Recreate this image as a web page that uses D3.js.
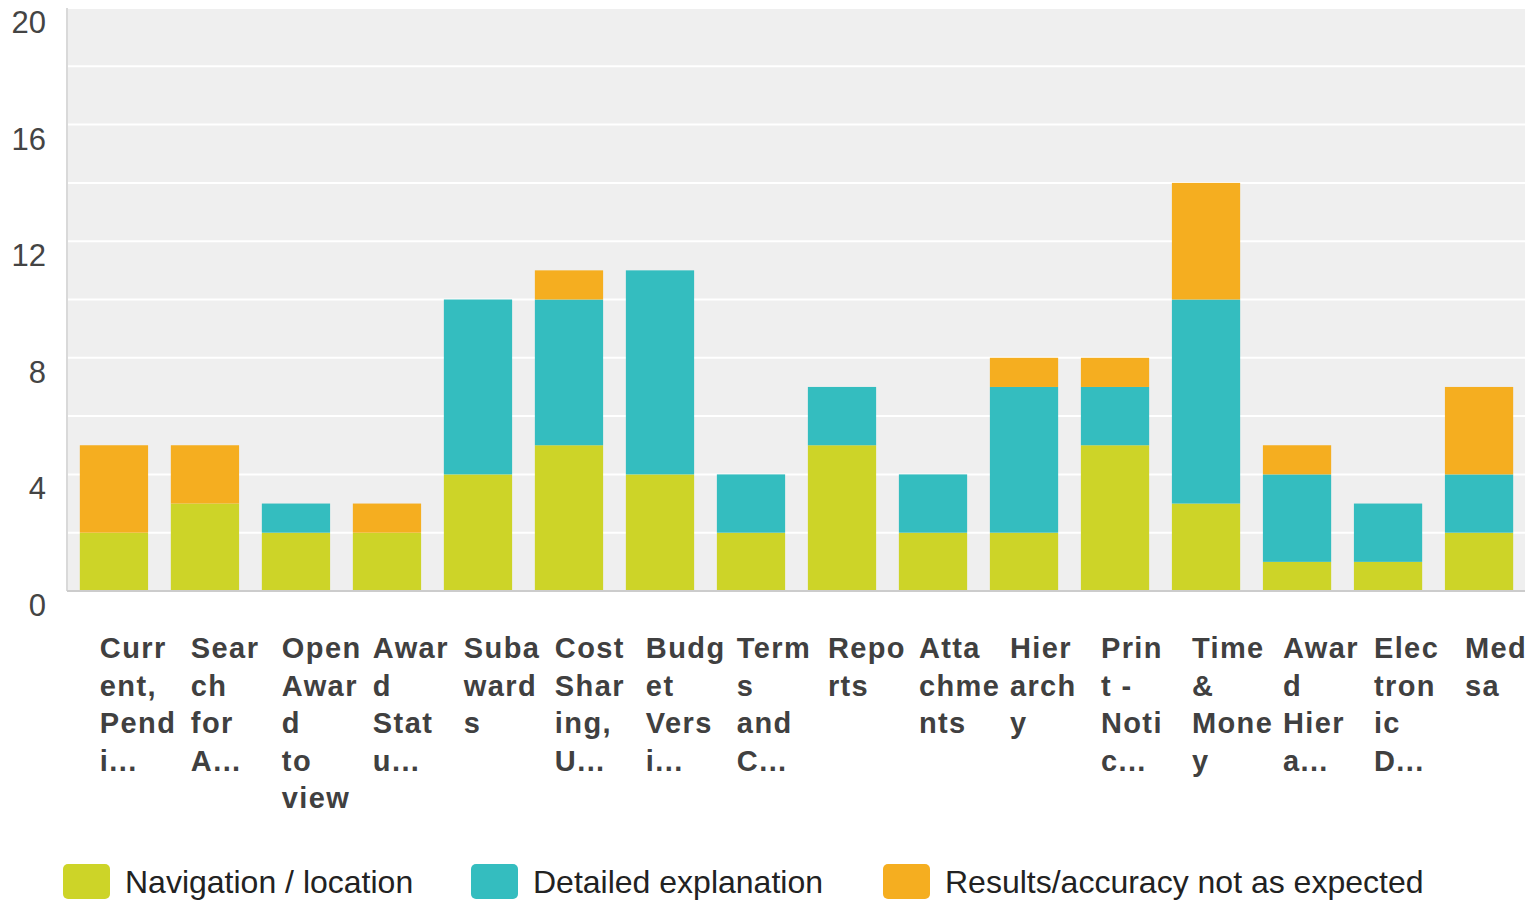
<!DOCTYPE html>
<html>
<head>
<meta charset="utf-8">
<script src="https://cdn.jsdelivr.net/npm/d3@7"></script>
<style>
  body { margin: 0; background: #fff; }
  svg { display: block; font-family: "Liberation Sans", Arial, Helvetica, sans-serif; }
</style>
</head>
<body>
<svg id="chart" width="1535" height="901"></svg>
<script>
// category labels, already wrapped as in the source chart
const categories = [
  ["Curr", "ent,", "Pend", "i..."],
  ["Sear", "ch", "for", "A..."],
  ["Open", "Awar", "d", "to", "view"],
  ["Awar", "d", "Stat", "u..."],
  ["Suba", "ward", "s"],
  ["Cost", "Shar", "ing,", "U..."],
  ["Budg", "et", "Vers", "i..."],
  ["Term", "s", "and", "C..."],
  ["Repo", "rts"],
  ["Atta", "chme", "nts"],
  ["Hier", "arch", "y"],
  ["Prin", "t -", "Noti", "c..."],
  ["Time", "&", "Mone", "y"],
  ["Awar", "d", "Hier", "a..."],
  ["Elec", "tron", "ic", "D..."],
  ["Med", "sa"]
];

const navigation = [2, 3, 2, 2, 4, 5, 4, 2, 5, 2, 2, 5, 3, 1, 1, 2];
const detailed   = [0, 0, 1, 0, 6, 5, 7, 2, 2, 2, 5, 2, 7, 3, 2, 2];
const results    = [3, 2, 0, 1, 0, 1, 0, 0, 0, 0, 1, 1, 4, 1, 0, 3];

const seriesNames = ["Navigation / location", "Detailed explanation", "Results/accuracy not as expected"];
const seriesColors = ["#cdd428", "#34bdbf", "#f5ae20"];
const yTicks = [0, 4, 8, 12, 16, 20];
const yGrid = [2, 4, 6, 8, 10, 12, 14, 16, 18, 20];

const svg = d3.select("#chart");

const x = d3.scaleBand()
    .domain(d3.range(categories.length))
    .range([68, 1525])
    .paddingInner(0.25)
    .paddingOuter(0.13);

const y = d3.scaleLinear().domain([0, 20]).range([591, 8]);

// plot background
svg.append("rect")
    .attr("x", 68).attr("y", y(20))
    .attr("width", 1525 - 68).attr("height", y(0) - y(20))
    .attr("fill", "#efefef");

// gridlines
svg.append("g").selectAll("line")
    .data(yGrid)
    .enter().append("line")
    .attr("x1", 68).attr("x2", 1525)
    .attr("y1", d => y(d)).attr("y2", d => y(d))
    .attr("stroke", "#ffffff")
    .attr("stroke-width", 2);

// left edge
svg.append("line")
    .attr("x1", 67).attr("x2", 67).attr("y1", y(20)).attr("y2", y(0))
    .attr("stroke", "#d9d9d9").attr("stroke-width", 2);

// stacked bars
const rows = categories.map((c, i) => ({ i, s0: navigation[i], s1: detailed[i], s2: results[i] }));
const stack = d3.stack().keys(["s0", "s1", "s2"]);
const layers = stack(rows);

svg.append("g").selectAll("g")
    .data(layers)
    .enter().append("g")
    .attr("fill", (d, k) => seriesColors[k])
    .selectAll("rect")
    .data(d => d.filter(p => p[1] > p[0]))
    .enter().append("rect")
    .attr("x", d => x(d.data.i))
    .attr("y", d => y(d[1]))
    .attr("width", x.bandwidth())
    .attr("height", d => y(d[0]) - y(d[1]));

// baseline
svg.append("line")
    .attr("x1", 67).attr("x2", 1525).attr("y1", y(0)).attr("y2", y(0))
    .attr("stroke", "#cccccc").attr("stroke-width", 2);

// y axis labels
svg.append("g").selectAll("text")
    .data(yTicks)
    .enter().append("text")
    .attr("x", 46)
    .attr("y", d => y(d) + 25)
    .attr("text-anchor", "end")
    .attr("font-size", 31)
    .attr("fill", "#444")
    .text(d => d);

// category labels
const lab = svg.append("g").selectAll("text")
    .data(categories)
    .enter().append("text")
    .attr("font-size", 29)
    .attr("font-weight", "bold")
    .attr("letter-spacing", 1.4)
    .attr("fill", "#404040");

lab.selectAll("tspan")
    .data((d, i) => d.map(line => ({ line, i })))
    .enter().append("tspan")
    .attr("x", d => x(d.i) + 20)
    .attr("y", (d, j) => 658 + j * 37.5)
    .text(d => d.line);

// legend
const legX = [63, 471, 883];
const leg = svg.append("g").selectAll("g")
    .data(seriesNames)
    .enter().append("g");

leg.append("rect")
    .attr("x", (d, k) => legX[k]).attr("y", 864)
    .attr("width", 47).attr("height", 35)
    .attr("rx", 5)
    .attr("fill", (d, k) => seriesColors[k]);

leg.append("text")
    .attr("x", (d, k) => legX[k] + 62)
    .attr("y", 893)
    .attr("font-size", 32)
    .attr("fill", "#222")
    .text(d => d);
</script>
</body>
</html>
